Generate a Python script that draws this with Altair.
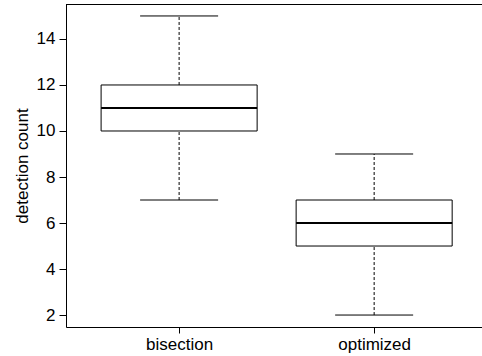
import altair as alt
import pandas as pd

groups = ["bisection", "optimized"]
mins = [7, 2]
q1s = [10, 5]
medians = [11, 6]
q3s = [12, 7]
maxs = [15, 9]

y_ticks = [2, 4, 6, 8, 10, 12, 14]

df = pd.DataFrame({
    "group": groups,
    "pos": list(range(1, len(groups) + 1)),
    "lo": mins,
    "q1": q1s,
    "med": medians,
    "q3": q3s,
    "hi": maxs,
})

W, H = 416, 323
FONT = "Liberation Sans"
x_dom = [0.42, 2.553]
y_dom = [1.48, 15.52]

label_expr = " : ".join(
    [f"datum.value == {i + 1} ? '{g}'" for i, g in enumerate(groups[:-1])] + [f"'{groups[-1]}'"]
)

xs = alt.Scale(domain=x_dom, nice=False, zero=False)
ys = alt.Scale(domain=y_dom, nice=False, zero=False)

x_axis = alt.Axis(
    values=list(range(1, len(groups) + 1)), labelExpr=label_expr, title=None,
    grid=False, domain=True, domainColor="black", tickColor="black", tickSize=6,
    labelColor="black", labelFont=FONT, labelFontSize=17, labelPadding=3,
)
y_axis = alt.Axis(
    values=y_ticks, title="detection count", grid=False, domain=True,
    domainColor="black", tickColor="black", tickSize=7, labelColor="black",
    labelFont=FONT, labelFontSize=17, labelPadding=4, titleFont=FONT,
    titleFontSize=17, titleFontWeight="normal", titleColor="black",
    titleX=-44, titleY=H / 2, titleBaseline="middle", titleAngle=270,
)

base = alt.Chart(df)
DASH = [3, 2]

whisk_hi = base.mark_rule(color="black", strokeWidth=1, strokeDash=DASH).encode(
    x=alt.X("pos:Q", scale=xs, axis=x_axis),
    y=alt.Y("q3:Q", scale=ys, axis=y_axis),
    y2="hi:Q",
)
whisk_lo = base.mark_rule(color="black", strokeWidth=1, strokeDash=DASH).encode(
    x=alt.X("pos:Q", scale=xs), y=alt.Y("lo:Q", scale=ys), y2="q1:Q"
)
cap_hi = base.transform_calculate(a="datum.pos - 0.2", b="datum.pos + 0.2").mark_rule(
    color="black", strokeWidth=1
).encode(x=alt.X("a:Q", scale=xs), x2="b:Q", y=alt.Y("hi:Q", scale=ys))
cap_lo = base.transform_calculate(a="datum.pos - 0.2", b="datum.pos + 0.2").mark_rule(
    color="black", strokeWidth=1
).encode(x=alt.X("a:Q", scale=xs), x2="b:Q", y=alt.Y("lo:Q", scale=ys))
box = base.transform_calculate(a="datum.pos - 0.4", b="datum.pos + 0.4").mark_rect(
    fill="white", stroke="black", strokeWidth=1
).encode(x=alt.X("a:Q", scale=xs), x2="b:Q", y=alt.Y("q1:Q", scale=ys), y2="q3:Q")
med = base.transform_calculate(a="datum.pos - 0.4", b="datum.pos + 0.4").mark_rule(
    color="black", strokeWidth=2.2
).encode(x=alt.X("a:Q", scale=xs), x2="b:Q", y=alt.Y("med:Q", scale=ys))

top = alt.Chart(pd.DataFrame({"k": [0]})).mark_rule(color="black", strokeWidth=1).encode(
    x=alt.value(0), x2=alt.value(W), y=alt.value(0.5)
)

chart = alt.layer(whisk_hi, whisk_lo, cap_hi, cap_lo, box, med, top).properties(
    width=W, height=H,
    autosize=alt.AutoSizeParams(type="none"),
    padding={"left": 66, "top": 4, "right": 0, "bottom": 29},
).configure_view(stroke=None).configure(background="white")

chart.save("out.html", embed_options={"renderer": "svg", "actions": False})
